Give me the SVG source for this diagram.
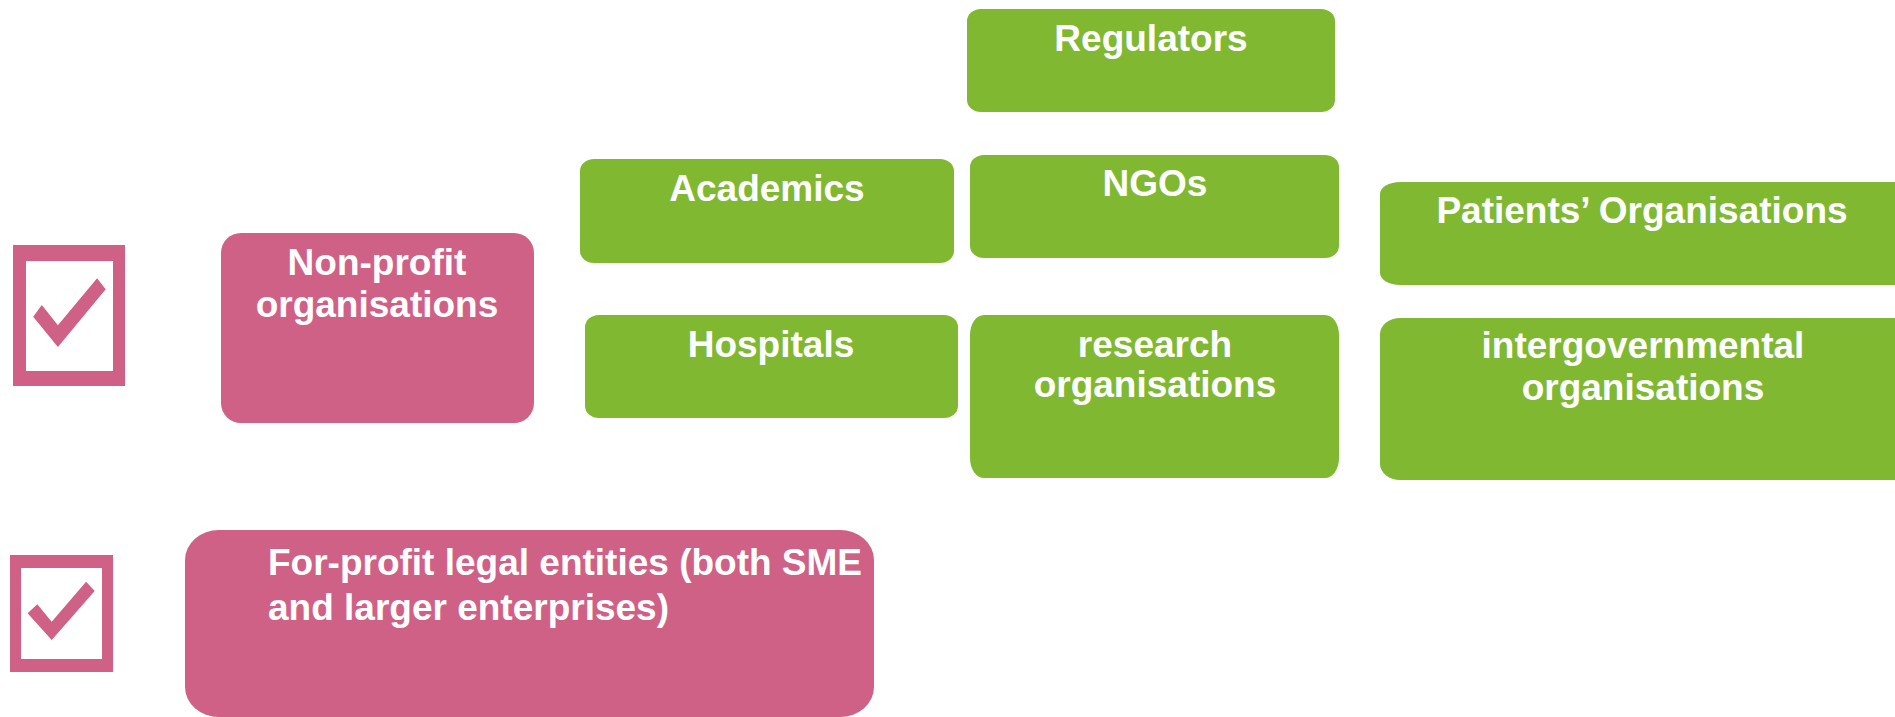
<svg xmlns="http://www.w3.org/2000/svg" width="1895" height="717" viewBox="0 0 1895 717">
  <style>
    .g { fill: #80B832; }
    .p { fill: #CF6086; }
    .t { font-family: "Liberation Sans", Arial, sans-serif; font-weight: bold; font-size: 37px; fill: #FFFFFF; }
    .c { text-anchor: middle; }
  </style>
  <rect width="1895" height="717" fill="#FFFFFF"/>
  <g id="connectors"></g>
  <g id="check1">
    <path class="p" fill-rule="evenodd" d="M13,245 H125 V386 H13 Z M26,261 V371 H113 V261 Z"/>
    <polygon class="p" points="33.2,316.7 57.9,347 105.7,289.3 97.1,278.3 57.9,325.3 41.8,305"/>
  </g>
  <g id="check2">
    <path class="p" fill-rule="evenodd" d="M10,555 H113 V672 H10 Z M21,568 V659 H102 V568 Z"/>
    <polygon class="p" points="27.6,613.3 51.7,640 94.7,591 86.1,581.7 51.7,621.7 37.3,604.3"/>
  </g>
  <g id="nonprofit">
    <rect class="p" x="221" y="233" width="313" height="190" rx="20" ry="20"/>
    <text class="t c" x="377" y="275">Non-profit</text>
    <text class="t c" x="377" y="317">organisations</text>
  </g>
  <g id="forprofit">
    <rect class="p" x="185" y="530" width="689" height="187" rx="34" ry="30"/>
    <text class="t" x="268" y="575">For-profit legal entities (both SME</text>
    <text class="t" x="268" y="620">and larger enterprises)</text>
  </g>
  <g id="regulators">
    <rect class="g" x="967" y="9" width="368" height="103" rx="14" ry="12"/>
    <text class="t c" x="1151" y="51">Regulators</text>
  </g>
  <g id="academics">
    <rect class="g" x="580" y="159" width="374" height="104" rx="14" ry="12"/>
    <text class="t c" x="767" y="201">Academics</text>
  </g>
  <g id="ngos">
    <rect class="g" x="970" y="155" width="369" height="103" rx="14" ry="12"/>
    <text class="t c" x="1155" y="196">NGOs</text>
  </g>
  <g id="patients">
    <rect class="g" x="1380" y="182" width="540" height="103" rx="20" ry="12"/>
    <text class="t c" x="1642" y="223">Patients’ Organisations</text>
  </g>
  <g id="hospitals">
    <rect class="g" x="585" y="315" width="373" height="103" rx="14" ry="12"/>
    <text class="t c" x="771" y="357">Hospitals</text>
  </g>
  <g id="research">
    <rect class="g" x="970" y="315" width="369" height="163" rx="14" ry="20"/>
    <text class="t c" x="1155" y="357">research</text>
    <text class="t c" x="1155" y="397">organisations</text>
  </g>
  <g id="intergov">
    <rect class="g" x="1380" y="318" width="540" height="162" rx="20" ry="16"/>
    <text class="t c" x="1643" y="358">intergovernmental</text>
    <text class="t c" x="1643" y="400">organisations</text>
  </g>
</svg>
